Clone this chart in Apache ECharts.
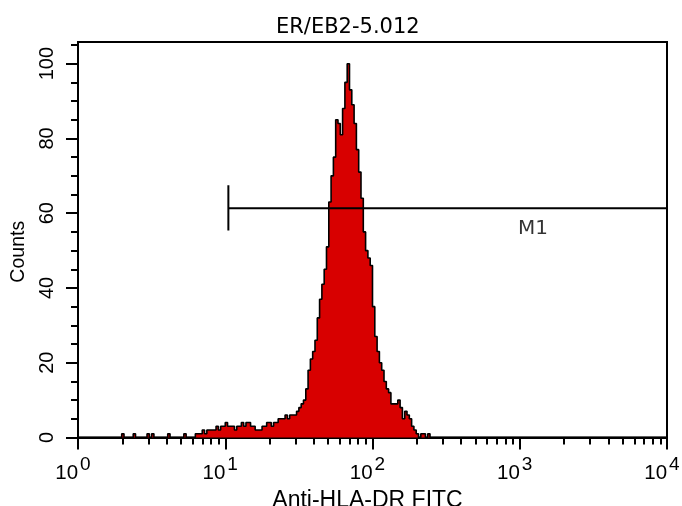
<!DOCTYPE html>
<html><head><meta charset="utf-8">
<script src="https://cdn.jsdelivr.net/npm/echarts@6/dist/echarts.min.js"></script>
<style>html,body{margin:0;padding:0;background:#fff}#c{width:682px;height:506px}</style>
</head><body><div id="c"></div>
<script>
const chartTitle = 'ER/EB2-5.012';
const xAxisName = 'Anti-HLA-DR FITC';
const yAxisName = 'Counts';
const channelTotal = 256;
const decadeTotal = 4;
const counts = [
  0,0,0,0,0,0,0,0,0,0,0,0,0,0,0,0,
  0,0,0,1,0,0,0,0,1,0,0,0,0,0,1,0,
  1,0,0,0,0,0,0,1,0,0,0,0,0,0,1,0,
  0,0,0,1,1,1,2,1,2,2,2,2,3,2,3,3,
  4,3,3,3,2,3,3,4,3,4,4,3,3,2,2,2,
  3,3,4,4,3,4,4,5,5,5,6,5,6,6,6,7,
  8,9,10,13,18,21,23,26,32,37,41,45,51,63,70,75,
  85,84,81,88,95,100,93,89,84,77,71,64,55,50,48,46,
  35,27,23,20,18,15,13,12,9,9,9,10,8,5,7,6,
  5,3,2,1,0,1,1,0,1,0,0,0,0,0,0,0,
  0,0,0,0,0,0,0,0,0,0,0,0,0,0,0,0,
  0,0,0,0,0,0,0,0,0,0,0,0,0,0,0,0,
  0,0,0,0,0,0,0,0,0,0,0,0,0,0,0,0,
  0,0,0,0,0,0,0,0,0,0,0,0,0,0,0,0,
  0,0,0,0,0,0,0,0,0,0,0,0,0,0,0,0,
  0,0,0,0,0,0,0,0,0,0,0,0,0,0,0,0
];
const xMajorTicks = [1, 10, 100, 1000, 10000];
const xTickExponents = ['0', '1', '2', '3', '4'];
const xMinorTicks = [2,3,4,5,6,7,8,9,20,30,40,50,60,70,80,90,200,300,400,500,600,700,800,900,2000,3000,4000,5000,6000,7000,8000,9000];
const yMajorTicks = [0, 20, 40, 60, 80, 100];
const yMinorTicks = [5,10,15,25,30,35,45,50,55,65,70,75,85,90,95,105];
const yMax = 105.8;
const gateName = 'M1';
const gateStart = 10.5;
const gateEnd = 10000;
const gateLevel = 61.3;
const gateTickRange = [55.4, 67.5];
const gateLabelPos = [1230, 55.7];

const histData = counts.map((v, c) => [Math.pow(10, c * decadeTotal / channelTotal), v]);
histData.push([Math.pow(10, decadeTotal), 0]);

const chart = echarts.init(document.getElementById('c'), null, {renderer: 'canvas'});
const black = '#000';
const fam = 'Liberation Sans';
chart.setOption({
  animation: false,
  backgroundColor: '#fff',
  title: {
    text: chartTitle, left: 276, top: 17, padding: 0,
    textStyle: {fontFamily: 'DejaVu Sans', fontSize: 21, fontWeight: 'normal', color: black}
  },
  grid: {left: 78, top: 42, width: 589, height: 395.5, show: true, borderColor: black, borderWidth: 2, backgroundColor: 'transparent', outerBoundsMode: 'none'},
  xAxis: [{
    type: 'log', logBase: 10, min: 1, max: 10000, position: 'bottom',
    axisLine: {show: true, onZero: false, lineStyle: {color: black, width: 2}},
    axisTick: {show: true, customValues: xMajorTicks, length: 12, lineStyle: {color: black, width: 2}},
    axisLabel: {
      show: true, customValues: xMajorTicks, margin: 18, padding: [0, 10, 0, 0],
      formatter: v => '{b|10}{s|' + xTickExponents[Math.round(Math.log10(v))] + '}',
      rich: {
        b: {fontFamily: fam, fontSize: 20.5, verticalAlign: 'bottom', color: black},
        s: {fontFamily: fam, fontSize: 19, verticalAlign: 'top', padding: [0, 0, 9.5, 2], color: black}
      }
    },
    splitLine: {show: false}, minorTick: {show: false},
    name: xAxisName, nameLocation: 'middle', nameGap: 43,
    nameTextStyle: {fontFamily: fam, fontSize: 23, color: black, padding: [0, 10, 0, 0]}
  }, {
    type: 'log', logBase: 10, min: 1, max: 10000, position: 'bottom',
    axisLine: {show: false},
    axisTick: {show: true, customValues: xMinorTicks, length: 7, lineStyle: {color: black, width: 2}},
    axisLabel: {show: false}, splitLine: {show: false}
  }],
  yAxis: [{
    type: 'value', min: 0, max: yMax, position: 'left',
    axisLine: {show: true, onZero: false, lineStyle: {color: black, width: 2}},
    axisTick: {show: true, customValues: yMajorTicks, length: 12, lineStyle: {color: black, width: 2}},
    axisLabel: {show: true, customValues: yMajorTicks, rotate: 90, margin: 21, fontFamily: fam, fontSize: 20, color: black},
    splitLine: {show: false},
    name: yAxisName, nameLocation: 'middle', nameGap: 41,
    nameTextStyle: {fontFamily: fam, fontSize: 19.5, color: black, padding: [0, 24, 0, 0]}
  }, {
    type: 'value', min: 0, max: yMax, position: 'left',
    axisLine: {show: false},
    axisTick: {show: true, customValues: yMinorTicks, length: 7, lineStyle: {color: black, width: 2}},
    axisLabel: {show: false}, splitLine: {show: false}
  }],
  series: [{
    type: 'line', step: 'end', data: histData, symbol: 'none', silent: true,
    lineStyle: {color: black, width: 1.6},
    areaStyle: {color: '#d80000', opacity: 1}
  }, {
    type: 'line', data: [[gateStart, gateLevel], [gateEnd, gateLevel]], symbol: 'none', silent: true,
    lineStyle: {color: black, width: 2}
  }, {
    type: 'line', data: [[gateStart, gateTickRange[0]], [gateStart, gateTickRange[1]]], symbol: 'none', silent: true,
    lineStyle: {color: black, width: 2}
  }, {
    type: 'scatter', data: [gateLabelPos], symbolSize: 1, silent: true,
    itemStyle: {color: 'rgba(0,0,0,0)'},
    label: {show: true, position: 'inside', formatter: gateName, fontFamily: 'DejaVu Sans', fontSize: 20, color: black}
  }]
});
</script></body></html>
